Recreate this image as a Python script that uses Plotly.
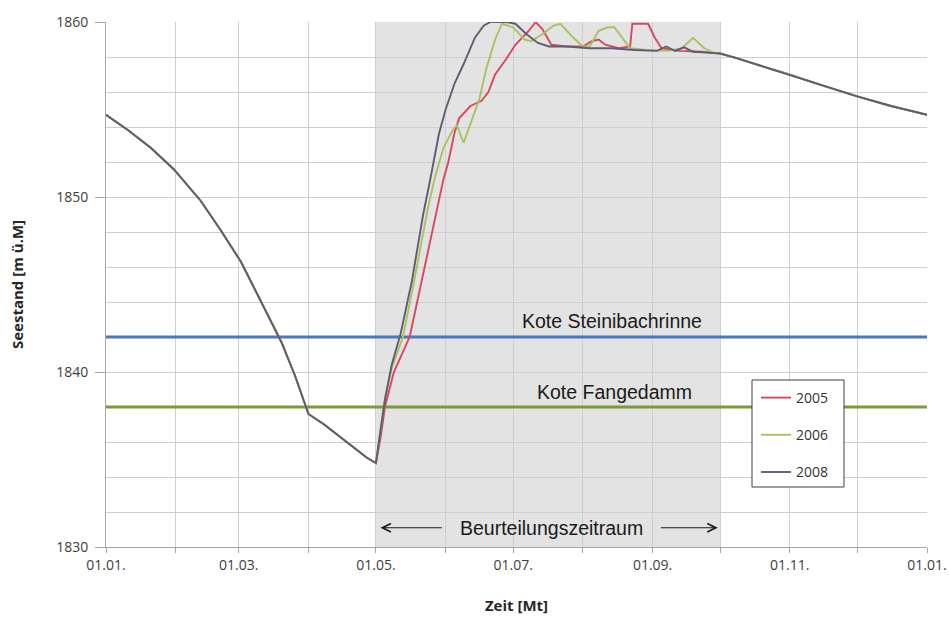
import plotly.graph_objects as go
from datetime import date, timedelta

# ---------------- data (day of year, 0 = 01.01.) ----------------
# shared lake level curve (all years identical) Jan-Apr
spring_days = [0, 10, 20, 30, 42, 51, 60, 69, 78, 84, 90, 97, 104, 110, 116, 120]
spring_values = [1854.7, 1853.8, 1852.8, 1851.6, 1849.8, 1848.1, 1846.3, 1844.0,
                 1841.7, 1839.8, 1837.6, 1837.0, 1836.3, 1835.7, 1835.1, 1834.8]

# shared curve Oct-Dec
autumn_days = [273, 280, 291, 304, 319, 334, 349, 365]
autumn_values = [1858.2, 1857.95, 1857.5, 1857.0, 1856.35, 1855.75, 1855.2, 1854.7]

# individual years, May-Sept
days_2005 = [122, 124, 128, 135, 140, 147, 150, 152, 155, 157, 162, 167, 170, 173,
             178, 182, 188, 191, 194, 198, 205, 212, 216, 219, 222, 228, 233, 234,
             241, 244, 247, 255, 265]
values_2005 = [1836.2, 1838.0, 1840.0, 1842.0, 1845.0, 1849.3, 1851.0, 1851.9, 1853.7,
               1854.5, 1855.2, 1855.5, 1856.0, 1857.0, 1857.9, 1858.7, 1859.5, 1860.0,
               1859.6, 1858.7, 1858.6, 1858.6, 1858.9, 1859.0, 1858.7, 1858.5, 1858.6,
               1859.9, 1859.9, 1859.1, 1858.5, 1858.35, 1858.3]

days_2006 = [122, 124, 127, 132, 137, 143, 146, 150, 154, 156, 159, 162, 166, 169,
             173, 176, 181, 186, 189, 194, 199, 202, 207, 212, 215, 219, 223, 226,
             231, 233, 240, 250, 256, 261, 266, 270]
values_2006 = [1836.8, 1838.5, 1840.2, 1842.0, 1845.2, 1849.3, 1851.0, 1852.8, 1853.8,
               1854.1, 1853.1, 1854.2, 1855.6, 1857.3, 1859.0, 1859.9, 1859.7, 1859.0,
               1858.9, 1859.3, 1859.8, 1859.9, 1859.2, 1858.6, 1858.6, 1859.5, 1859.7,
               1859.7, 1858.8, 1858.5, 1858.4, 1858.35, 1858.5, 1859.1, 1858.5, 1858.25]

days_2008 = [122, 124, 127, 131, 136, 141, 144, 148, 151, 155, 159, 164, 168, 171,
             178, 182, 187, 192, 197, 205, 215, 225, 235, 245, 249, 253, 257, 261, 267]
values_2008 = [1836.6, 1838.4, 1840.4, 1842.2, 1845.2, 1849.0, 1850.9, 1853.6, 1855.0,
               1856.5, 1857.6, 1859.1, 1859.8, 1860.0, 1860.0, 1859.9, 1859.3, 1858.8,
               1858.6, 1858.6, 1858.5, 1858.5, 1858.4, 1858.35, 1858.6, 1858.35, 1858.55,
               1858.3, 1858.25]

kote_steinibachrinne = 1842.0
kote_fangedamm = 1838.0
period_start_day = 120   # 01.05.
period_end_day = 273     # 01.10.

x_tick_labels_fmt = "%d.%m."

# ---------------- helpers ----------------
Y0 = date(2005, 1, 1)


def to_date(day):
    return (Y0 + timedelta(days=day)).isoformat()


def series(days, values):
    d = spring_days + days + autumn_days
    v = spring_values + values + autumn_values
    return [to_date(x) for x in d], v


FONT = "Open Sans"
fig = go.Figure()

# reference levels
for lvl, col in [(kote_steinibachrinne, "#4a78bd"), (kote_fangedamm, "#7c9a3c")]:
    fig.add_trace(go.Scatter(x=[to_date(0), to_date(365)], y=[lvl, lvl], mode="lines",
                             line=dict(color=col, width=3), showlegend=False,
                             hoverinfo="skip"))

for name, days, vals, col in [("2005", days_2005, values_2005, "#d8485f"),
                              ("2006", days_2006, values_2006, "#a9c25d"),
                              ("2008", days_2008, values_2008, "#5d5d74")]:
    xs, ys = series(days, vals)
    fig.add_trace(go.Scatter(x=xs, y=ys, mode="lines", name=name, legendgroup=name,
                             line=dict(color=col, width=1.9)))

# shaded assessment period
fig.add_shape(type="rect", xref="x", yref="paper", x0=to_date(period_start_day),
              x1=to_date(period_end_day), y0=0, y1=1, fillcolor="#e3e3e3",
              line=dict(width=0), layer="below")

# legend frame (white box with dark border, drawn above the curves)
PW, PH = 821, 525
fig.add_shape(type="rect", xref="paper", yref="paper",
              x0=(752 - 106) / PW, x1=(844 - 106) / PW,
              y0=(547 - 487) / PH, y1=(547 - 380) / PH,
              fillcolor="white", line=dict(color="#404040", width=1), layer="above")

ann_font = dict(family="Liberation Sans, Arial", size=19.5, color="#1a1a1a")
fig.add_annotation(x=to_date(225), y=kote_steinibachrinne, yshift=16, text="Kote Steinibachrinne",
                   showarrow=False, font=ann_font)
fig.add_annotation(x=to_date(226), y=kote_fangedamm, yshift=15, text="Kote Fangedamm",
                   showarrow=False, font=ann_font)
fig.add_annotation(x=to_date(198), y=1831.1, text="Beurteilungszeitraum", showarrow=False,
                   font=ann_font)
# arrows
fig.add_annotation(x=to_date(122), y=1831.1, ax=to_date(150), ay=1831.1, axref="x", ayref="y",
                   text="", showarrow=True, arrowhead=5, arrowsize=1.7, arrowwidth=1,
                   arrowcolor="#1a1a1a")
fig.add_annotation(x=to_date(272), y=1831.1, ax=to_date(246), ay=1831.1, axref="x", ayref="y",
                   text="", showarrow=True, arrowhead=5, arrowsize=1.7, arrowwidth=1,
                   arrowcolor="#1a1a1a")

grid = "#cfcfcf"
fig.update_xaxes(type="date", range=[to_date(0), to_date(365)], dtick="M2",
                 tick0=to_date(0), tickformat=x_tick_labels_fmt, showgrid=True,
                 gridcolor=grid, showline=True, linecolor="#a6a6a6", ticks="outside",
                 ticklen=5, tickcolor="#a6a6a6", automargin=False,
                 minor=dict(dtick="M1", tick0=to_date(0), showgrid=True, gridcolor=grid,
                            ticks="outside", ticklen=5, tickcolor="#a6a6a6"),
                 tickfont=dict(family=FONT, size=14, color="#404040"),
                 title=dict(text="<b>Zeit [Mt]</b>", standoff=27,
                            font=dict(family=FONT, size=15, color="#262626")))
fig.update_yaxes(range=[1830, 1860], dtick=10, showgrid=True, gridcolor=grid,
                 showline=True, linecolor="#a6a6a6", ticks="outside", ticklen=10,
                 tickcolor="#a6a6a6", zeroline=False, automargin=False,
                 ticklabelstandoff=4,
                 minor=dict(dtick=2, showgrid=True, gridcolor=grid),
                 tickfont=dict(family=FONT, size=14, color="#404040"),
                 title=dict(text="<b>Seestand [m ü.M]</b>", standoff=28,
                            font=dict(family=FONT, size=15, color="#262626")))

fig.update_layout(
    width=949, height=617,
    margin=dict(l=106, r=22, t=22, b=70),
    paper_bgcolor="white", plot_bgcolor="white",
    legend=dict(x=(756 - 106) / PW, y=(547 - 382) / PH, xanchor="left", yanchor="top",
                borderwidth=0, bgcolor="rgba(0,0,0,0)",
                font=dict(family=FONT, size=14, color="#333333"), itemwidth=30,
                tracegroupgap=16),
    showlegend=True,
)

# remove the default page margin so the 949x617 figure fills the window exactly
fig.write_html("out.html", config={"displayModeBar": False},
               post_script="document.body.style.margin='0px';document.body.style.overflow='hidden';")
